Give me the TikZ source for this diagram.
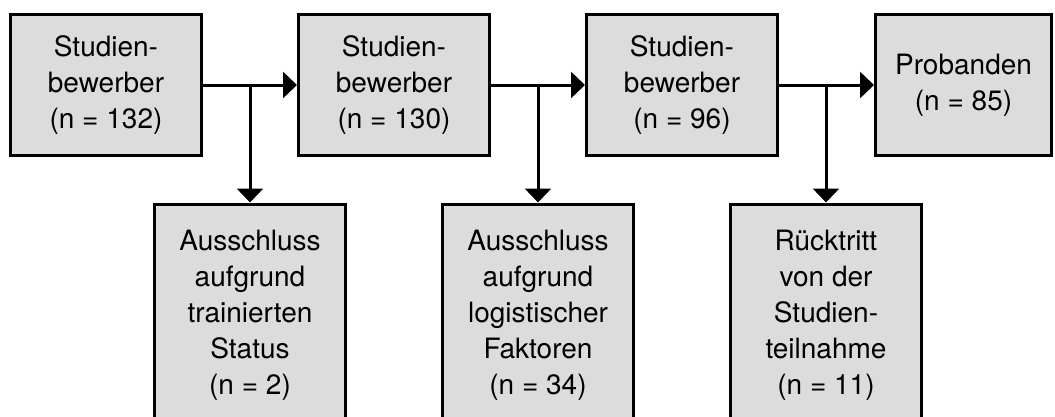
\documentclass[tikz,border=0pt]{standalone}
\usepackage{fontspec}
\setmainfont{TeX Gyre Heros}
\usetikzlibrary{arrows.meta}
\definecolor{boxgray}{RGB}{220,220,220}
\begin{document}
\begin{tikzpicture}[x=1pt,y=-1pt,
  box/.style={draw=black,fill=boxgray,line width=3pt,align=center,
    font=\fontsize{28}{36}\selectfont,inner sep=0pt,
    minimum width=191pt},
  toprow/.style={box,minimum height=141pt},
  botrow/.style={box,minimum height=222pt},
  conn/.style={line width=3pt,-{Triangle[length=14pt,width=26pt]}},
  plain/.style={line width=3pt}]
\useasboundingbox (0,0) rectangle (1055,416);
\node[toprow] (b1) at (106,85) {Studien-\\bewerber\\(n = 132)};
\node[toprow] (b2) at (394,85) {Studien-\\bewerber\\(n = 130)};
\node[toprow] (b3) at (682,85) {Studien-\\bewerber\\(n = 96)};
\node[toprow,minimum width=176pt] (b4) at (963.5,85) {Probanden\\(n = 85)};
\node[botrow] (e1) at (250,315) {Ausschluss\\aufgrund\\trainierten\\Status\\(n = 2)};
\node[botrow] (e2) at (538,315) {Ausschluss\\aufgrund\\logistischer\\Faktoren\\(n = 34)};
\node[botrow] (e3) at (826,315) {Rücktritt\\von der\\Studien-\\teilnahme\\(n = 11)};
\coordinate (j1) at (b1.east -| e1.north);
\coordinate (j2) at (b2.east -| e2.north);
\coordinate (j3) at (b3.east -| e3.north);
\draw[conn] (b1.east) -- (b2.west);
\draw[conn] (b2.east) -- (b3.west);
\draw[conn] (b3.east) -- (b4.west);
\draw[conn] (j1) -- (e1.north);
\draw[conn] (j2) -- (e2.north);
\draw[conn] (j3) -- (e3.north);
\end{tikzpicture}
\end{document}
